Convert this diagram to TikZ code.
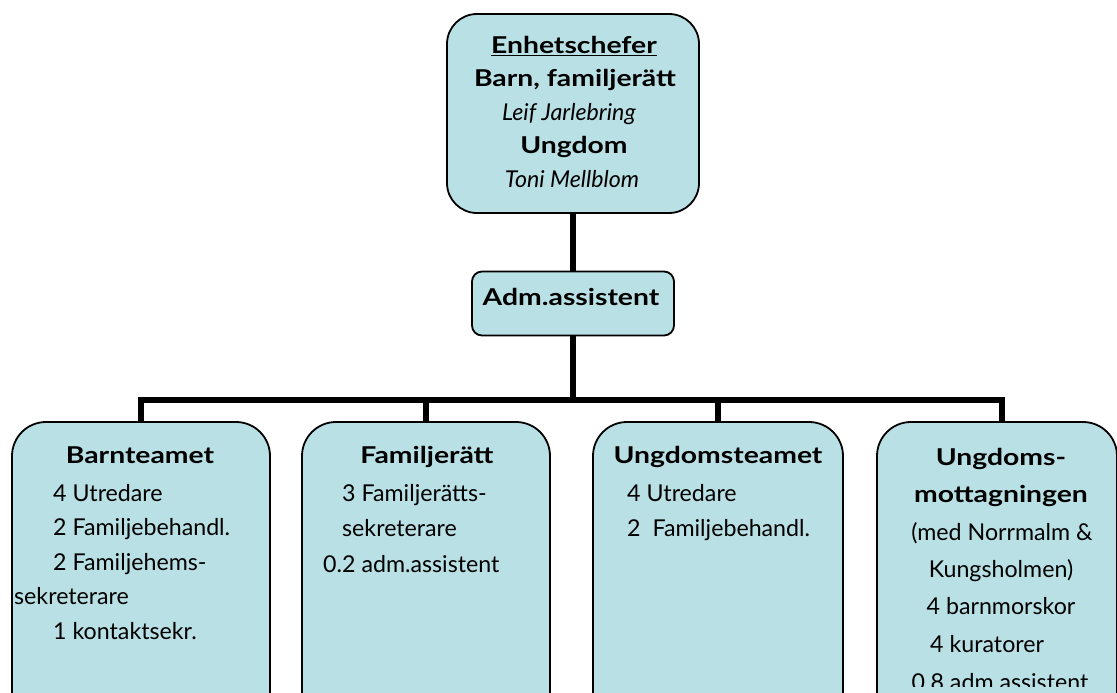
\documentclass[tikz,border=0pt]{standalone}
\usepackage{fontspec}
\setmainfont{Lato}[BoldFeatures={FakeStretch=1.22}]
\usetikzlibrary{positioning}
\definecolor{boxfill}{RGB}{185,224,228}

\begin{document}
\begin{tikzpicture}[x=1pt,y=-1pt]
	\tikzstyle{every node}=[font=\fontsize{23.2}{27}\selectfont, inner sep=0pt]
	\tikzstyle{unitbox}=[draw=black, line width=1.8pt, fill=boxfill, rounded corners=34pt]
	\tikzstyle{link}=[line width=5.5pt]
	\tikzstyle{line}=[anchor=base west]
	\tikzstyle{cline}=[anchor=base]

	\useasboundingbox (0,0) rectangle (1117,693);
	\clip (0,0) rectangle (1117,693);

	%% boxes
	\node [unitbox, minimum width=252pt, minimum height=199pt, rounded corners=30pt] (chef) at (573,113.5) {};
	\node [unitbox, minimum width=202pt, minimum height=64pt, rounded corners=10pt] (adm) at (573,303.5) {};
	\node [unitbox, minimum width=258pt, minimum height=320pt] (barn) at (141,582) {};
	\node [unitbox, minimum width=248pt, minimum height=320pt] (fam) at (426,582) {};
	\node [unitbox, minimum width=250pt, minimum height=320pt] (ung) at (718,582) {};
	\node [unitbox, minimum width=240pt, minimum height=320pt] (mott) at (997,582) {};

	%% connectors
	\coordinate (hub) at (573,400);
	\draw [link] (chef.south) -- (adm.north);
	\draw [link] (adm.south) -- (hub);
	\draw [link] (barn.north) |- (hub);
	\draw [link] (hub) -| ([xshift=5pt]mott.north);
	\draw [link] (fam.north) -- (fam.north |- hub);
	\draw [link] (ung.north) -- (ung.north |- hub);

	%% top box
	\node [cline] (chef1) at (574,54) {\textbf{\underline{Enhetschefer}}};
	\node [cline] (chef2) at (575,87) {\textbf{Barn, familjerätt}};
	\node [cline] (chef3) at (569,121) {\textit{Leif Jarlebring}};
	\node [cline] (chef4) at (574,153) {\textbf{Ungdom}};
	\node [cline] (chef5) at (572,187) {\textit{Toni Mellblom}};

	\node [cline] (adm1) at (571,305) {\textbf{Adm.assistent}};

	%% Barnteamet
	\node [cline] (barn0) at (140,463) {\textbf{Barnteamet}};
	\node [line] (barn1) at (53,501) {4 Utredare};
	\node [line] (barn2) at (53,535.5) {2 Familjebehandl.};
	\node [line] (barn3) at (53,570) {2 Familjehems-};
	\node [line] (barn4) at (14,604.5) {sekreterare};
	\node [line] (barn5) at (53,639) {1 kontaktsekr.};

	%% Familjerätt
	\node [cline] (fam0) at (427,463) {\textbf{Familjerätt}};
	\node [line] (fam1) at (342,501) {3 Familjerätts-};
	\node [line] (fam2) at (342,536.5) {sekreterare};
	\node [line] (fam3) at (323,572) {0.2 adm.assistent};

	%% Ungdomsteamet
	\node [cline] (ung0) at (718,463) {\textbf{Ungdomsteamet}};
	\node [line] (ung1) at (627,501) {4 Utredare};
	\node [line] (ung2) at (627,536.5) {2\ \ Familjebehandl.};

	%% Ungdomsmottagningen
	\node [cline] (mott0) at (1001,465) {\textbf{Ungdoms-}};
	\node [cline] (mott1) at (1001,502) {\textbf{mottagningen}};
	\node [cline] (mott2) at (1002,540) {(med Norrmalm \&};
	\node [cline] (mott3) at (1001,577) {Kungsholmen)};
	\node [cline] (mott4) at (1001,614) {4 barnmorskor};
	\node [line] (mott5) at (930,652) {4 kuratorer};
	\begin{scope}
		\clip (880,600) rectangle (1110,686);
		\node [cline] (mott6) at (1000,690) {0.8 adm assistent};
	\end{scope}

\end{tikzpicture}
\end{document}
